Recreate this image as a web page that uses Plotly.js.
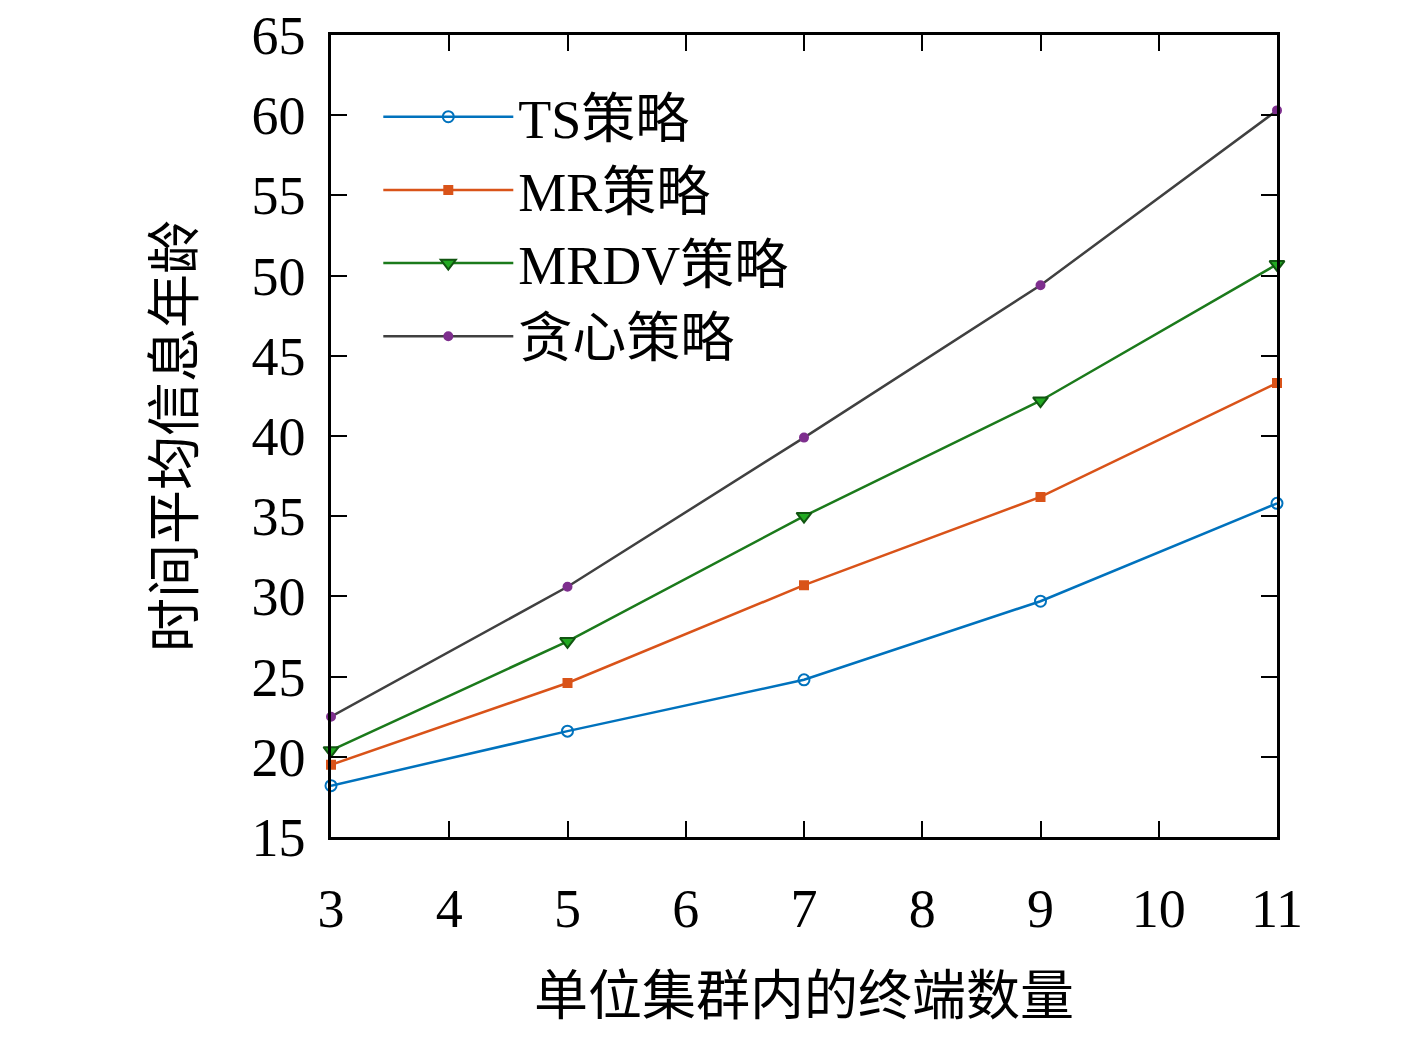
<!DOCTYPE html>
<html>
<head>
<meta charset="utf-8">
<script src="https://cdn.plot.ly/plotly-3.0.1.min.js"></script>
<style>body{margin:0;background:#fff}</style>
</head>
<body>
<div id="chart" style="width:1417px;height:1046px"></div>
<script>
var terminals = [3, 5, 7, 9, 11];
var tsAge = [18.2, 21.6, 24.8, 29.7, 35.8];
var mrAge = [19.5, 24.6, 30.7, 36.2, 43.3];
var mrdvAge = [20.4, 27.2, 35.0, 42.2, 50.7];
var greedyAge = [22.5, 30.6, 39.9, 49.4, 60.3];

var serif = "Liberation Serif, 'Noto Sans CJK SC', serif";

function series(name, y, lineColor, sym, mColor, mLine, size) {
  return {
    x: terminals, y: y, name: name, type: "scatter", mode: "lines+markers",
    cliponaxis: false,
    line: {color: lineColor, width: 2.5},
    marker: {symbol: sym, size: size, color: mColor, line: {color: mLine, width: 2}}
  };
}

var data = [
  series("TS策略", tsAge, "#0072bd", "circle-open", "#0072bd", "#0072bd", 11),
  series("MR策略", mrAge, "#d95319", "square", "#d95319", "#d95319", 8),
  series("MRDV策略", mrdvAge, "#1b7a1b", "triangle-down", "#22aa22", "#115511", 13),
  series("贪心策略", greedyAge, "#404040", "circle", "#7e2f8e", "#7e2f8e", 8)
];

var axisCommon = {
  showgrid: false, zeroline: false, showline: true, mirror: "ticks",
  linecolor: "#000", linewidth: 2.5, ticks: "inside", ticklen: 16,
  tickwidth: 2, tickcolor: "#000",
  tickfont: {family: serif, size: 54, color: "#000"}
};

var layout = {
  width: 1417, height: 1046,
  margin: {l: 331, r: 140, t: 35, b: 209},
  paper_bgcolor: "#fff", plot_bgcolor: "#fff",
  font: {family: serif, color: "#000"},
  xaxis: Object.assign({}, axisCommon, {
    range: [3, 11], tickvals: [3, 4, 5, 6, 7, 8, 9, 10, 11],
    ticklabelstandoff: 22,
    title: {text: "单位集群内的终端数量", font: {family: serif, size: 54}, standoff: 40}
  }),
  yaxis: Object.assign({}, axisCommon, {
    range: [15, 65], dtick: 5,
    ticklabelstandoff: 12,
    title: {text: "时间平均信息年龄", font: {family: serif, size: 54}, standoff: 40}
  }),
  legend: {
    x: 0.05, y: 0.95, xanchor: "left", yanchor: "top",
    bgcolor: "rgba(0,0,0,0)", font: {family: serif, size: 54},
    itemwidth: 130, tracegroupgap: 20
  }
};

Plotly.newPlot("chart", data, layout, {displayModeBar: false});
</script>
</body>
</html>
